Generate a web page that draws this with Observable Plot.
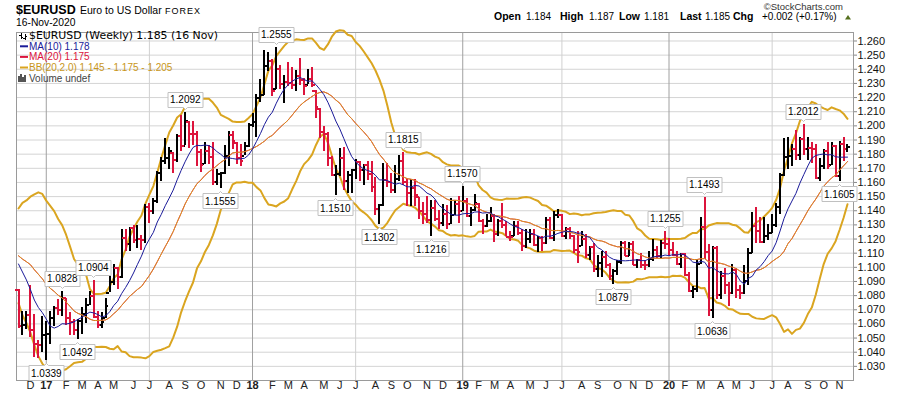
<!DOCTYPE html>
<html><head><meta charset="utf-8">
<script src="https://cdn.jsdelivr.net/npm/d3@7"></script>
<script src="https://cdn.jsdelivr.net/npm/@observablehq/plot@0.6"></script>
<style>
html,body{margin:0;padding:0;background:#fff;}
#chart{width:900px;height:396px;position:relative;overflow:hidden;}
</style></head><body><div id="chart"></div>
<script>
// ---------------- data (weekly bars, Monday dates) ----------------
const firstWeek = "2016-11-14";
// closes of the 20 weeks before the first bar (Jun 27 – Nov 7 2016), for MA / BB warm-up
const warmupCloses = [1.1105,1.1050,1.1040,1.0975,1.1175,1.1085,1.1160,1.1325,1.1195,1.1155,1.1235,1.1155,1.1225,1.1240,1.1200,1.0970,1.0885,1.0985,1.1140,1.0850];

const highs2016  = [1.0840,1.0685,1.0690,1.0875,1.0670,1.0480,1.0655];
const lows2016   = [1.0565,1.0520,1.0560,1.0505,1.0365,1.0352,1.0400];
const closes2016 = [1.0585,1.0590,1.0665,1.0560,1.0455,1.0450,1.0520];

const highs2017  = [1.0620,1.0685,1.0720,1.0775,1.0828, 1.0780,1.0680,1.0630,1.0630, 1.0715,1.0780,1.0830,1.0904, 1.0690,1.0680,1.0780,1.0950, 1.1020,1.1000,1.1265,1.1270,1.1285, 1.1295,1.1295,1.1225,1.1445, 1.1450,1.1490,1.1680,1.1775,1.1910, 1.1845,1.1810,1.1940,1.2070, 1.2092,1.2030,1.2030,1.1960, 1.1835,1.1880,1.1860,1.1880,1.1690, 1.1665,1.1860,1.1960,1.1960, 1.1880,1.1865,1.1880,1.2020];
const lows2017   = [1.0339,1.0455,1.0580,1.0660,1.0650, 1.0590,1.0520,1.0520,1.0492, 1.0525,1.0600,1.0730,1.0650, 1.0570,1.0570,1.0640,1.0820, 1.0870,1.0840,1.0920,1.1110,1.1110, 1.1170,1.1130,1.1120,1.1170, 1.1310,1.1370,1.1450,1.1610,1.1730, 1.1690,1.1660,1.1740,1.1820, 1.1860,1.1840,1.1860,1.1715, 1.1670,1.1730,1.1730,1.1575,1.1575, 1.1555,1.1655,1.1715,1.1830, 1.1730,1.1715,1.1790,1.1850];
const closes2017 = [1.0530,1.0640,1.0710,1.0700,1.0785, 1.0640,1.0615,1.0560,1.0620, 1.0670,1.0735,1.0800,1.0650, 1.0590,1.0615,1.0725,1.0895, 1.0995,1.0930,1.1210,1.1165,1.1280, 1.1195,1.1200,1.1195,1.1425, 1.1400,1.1470,1.1665,1.1750,1.1775, 1.1820,1.1760,1.1925,1.1860, 1.2035,1.1945,1.1940,1.1815, 1.1725,1.1820,1.1780,1.1605,1.1660, 1.1665,1.1790,1.1935,1.1895, 1.1770,1.1750,1.1860,1.2005];

const highs2018  = [1.2090,1.2220,1.2325,1.2535,1.2520, 1.2470,1.2555,1.2430,1.2355, 1.2445,1.2410,1.2390,1.2475, 1.2335,1.2395,1.2415,1.2250,1.2120, 1.1995,1.1950,1.1780,1.1720, 1.1840,1.1850,1.1675,1.1690, 1.1760,1.1745,1.1720,1.1750,1.1745, 1.1635,1.1445,1.1735,1.1735, 1.1660,1.1720,1.1790,1.1815, 1.1625,1.1620,1.1620,1.1495,1.1455, 1.1500,1.1470,1.1470,1.1400, 1.1445,1.1440,1.1485,1.1470,1.1500];
const lows2018   = [1.1990,1.1915,1.2165,1.2215,1.2385, 1.2205,1.2260,1.2260,1.2155, 1.2275,1.2260,1.2240,1.2285, 1.2215,1.2290,1.2270,1.2055,1.1910, 1.1820,1.1715,1.1645,1.1510, 1.1640,1.1540,1.1520,1.1525, 1.1620,1.1610,1.1575,1.1615,1.1530, 1.1365,1.1302,1.1430,1.1565, 1.1525,1.1525,1.1610,1.1575, 1.1430,1.1430,1.1430,1.1335,1.1305, 1.1310,1.1216,1.1325,1.1265, 1.1290,1.1270,1.1300,1.1365,1.1310];
const closes2018 = [1.2030,1.2200,1.2220,1.2425,1.2460, 1.2250,1.2405,1.2295,1.2310, 1.2305,1.2290,1.2355,1.2325, 1.2280,1.2330,1.2290,1.2130,1.1960, 1.1940,1.1770,1.1655,1.1660, 1.1770,1.1610,1.1655,1.1685, 1.1745,1.1685,1.1720,1.1660,1.1565, 1.1410,1.1440,1.1620,1.1600, 1.1550,1.1625,1.1755,1.1605, 1.1525,1.1560,1.1510,1.1400,1.1380, 1.1335,1.1420,1.1340,1.1315, 1.1380,1.1305,1.1370,1.1445,1.1400];

const highs2019  = [1.1570,1.1485,1.1425,1.1515, 1.1450,1.1340,1.1370,1.1420, 1.1375,1.1340,1.1450,1.1325, 1.1255,1.1325,1.1325,1.1265,1.1265, 1.1265,1.1265,1.1215,1.1215, 1.1350,1.1350,1.1395,1.1410, 1.1375,1.1285,1.1285,1.1225,1.1250, 1.1250,1.1230,1.1150,1.1165, 1.1085,1.1110,1.1110,1.1025,1.0985, 1.1050,1.1180,1.1180,1.1175, 1.1180,1.1055,1.1095,1.1045, 1.1115,1.1200,1.1150,1.1190,1.1255];
const lows2019   = [1.1395,1.1350,1.1290,1.1395, 1.1325,1.1235,1.1280,1.1320, 1.1175,1.1220,1.1275,1.1215, 1.1185,1.1220,1.1225,1.1110,1.1135, 1.1170,1.1150,1.1105,1.1115, 1.1160,1.1200,1.1180,1.1345, 1.1210,1.1195,1.1200,1.1100,1.1030, 1.1150,1.1065,1.1050,1.0960, 1.0925,1.0925,1.0990,1.0905,1.0879, 1.0940,1.1020,1.1075,1.1075, 1.1015,1.0990,1.0990,1.0980, 1.1000,1.1040,1.1065,1.1065,1.1125];
const closes2019 = [1.1470,1.1365,1.1405,1.1455, 1.1325,1.1295,1.1330,1.1365, 1.1235,1.1325,1.1300,1.1215, 1.1213,1.1295,1.1245,1.1150,1.1200, 1.1235,1.1155,1.1205,1.1170, 1.1335,1.1210,1.1370,1.1372, 1.1225,1.1270,1.1220,1.1125,1.1105, 1.1200,1.1090,1.1145,1.0990, 1.1030,1.1075,1.1015,1.0940,1.0975, 1.1040,1.1170,1.1080,1.1165, 1.1020,1.1050,1.1020,1.1015, 1.1060,1.1120,1.1080,1.1175,1.1165];

const highs2020  = [1.1205,1.1175,1.1110,1.1095, 1.1095,1.0960,1.0865,1.1055, 1.1355,1.1493,1.1160,1.1145,1.1150, 1.0970,1.0990,1.0890,1.1020, 1.0990,1.0875,1.1010,1.1135, 1.1385,1.1420,1.1350,1.1350,1.1300, 1.1375,1.1450,1.1660,1.1910, 1.1915,1.1865,1.1965,1.1920,1.2012, 1.1915,1.1885,1.1870,1.1770, 1.1830,1.1880,1.1880,1.1860, 1.1890,1.1920,1.1870];
const lows2020   = [1.1085,1.1090,1.1015,1.0990, 1.0945,1.0825,1.0780,1.0820, 1.1020,1.1055,1.0650,1.0636,1.0770, 1.0770,1.0810,1.0725,1.0810, 1.0780,1.0775,1.0810,1.0870, 1.1095,1.1170,1.1170,1.1170,1.1190, 1.1240,1.1285,1.1375,1.1640, 1.1695,1.1710,1.1755,1.1755,1.1790, 1.1755,1.1735,1.1625,1.1610, 1.1690,1.1690,1.1720,1.1640, 1.1605,1.1745,1.1810];
const closes2020 = [1.1120,1.1090,1.1025,1.1095, 1.0945,1.0830,1.0845,1.1025, 1.1285,1.1105,1.0695,1.1140,1.0805, 1.0940,1.0875,1.0820,1.0980, 1.0840,1.0820,1.0900,1.1100, 1.1290,1.1255,1.1180,1.1220,1.1245, 1.1300,1.1425,1.1655,1.1780, 1.1785,1.1840,1.1795,1.1905,1.1835, 1.1845,1.1840,1.1630,1.1715, 1.1825,1.1715,1.1860,1.1645, 1.1875,1.1835,1.1850];

// swing-point callouts (week, side of bar)
const calloutDates = ["2017-01-02","2017-01-30","2017-02-27","2017-03-27","2017-09-04","2017-11-06","2018-02-12","2018-05-28","2018-08-13","2018-09-24","2018-11-12","2019-01-07","2019-09-30","2019-12-30","2020-03-09","2020-03-23","2020-08-31","2020-11-02"];
const calloutSides = ["L","H","L","H","H","L","H","L","L","H","L","H","L","H","H","L","H","L"];

// axis labels
const monthLetters = ["J","F","M","A","M","J","J","A","S","O","N","D"];
const yTicks = [1.03,1.04,1.05,1.06,1.07,1.08,1.09,1.10,1.11,1.12,1.13,1.14,1.15,1.16,1.17,1.18,1.19,1.20,1.21,1.22,1.23,1.24,1.25,1.26];

// ---------------- build table ----------------
const highs  = [].concat(highs2016, highs2017, highs2018, highs2019, highs2020);
const lows   = [].concat(lows2016, lows2017, lows2018, lows2019, lows2020);
const closes = [].concat(closes2016, closes2017, closes2018, closes2019, closes2020);
const allCloses = warmupCloses.concat(closes);
const W = warmupCloses.length;
const t0 = Date.parse(firstWeek + "T00:00:00Z");
const bars = closes.map((c, i) => {
  const prev = allCloses[W + i - 1];
  const j = W + i;
  const w20 = allCloses.slice(j - 19, j + 1), w10 = allCloses.slice(j - 9, j + 1);
  const m20 = d3.mean(w20), m10 = d3.mean(w10);
  const sd = Math.sqrt(d3.mean(w20, v => (v - m20) ** 2));
  return {
    date: new Date(t0 + i * 7 * 864e5),
    o: Math.min(highs[i], Math.max(lows[i], prev)), h: highs[i], l: lows[i], c,
    up: c >= prev, ma10: m10, ma20: m20, bbU: m20 + 2 * sd, bbL: m20 - 2 * sd
  };
});
const byKey = new Map(bars.map(b => [b.date.toISOString().slice(0, 10), b]));
const callouts = calloutDates.map((d, k) => {
  const b = byKey.get(d), hi = calloutSides[k] === "H";
  return {date: b.date, v: hi ? b.h : b.l, side: calloutSides[k], label: d3.format(".4f")(hi ? b.h : b.l)};
});
const monthStarts = [];
for (let i = 1; i < bars.length; i++) {
  const m = bars[i].date.getUTCMonth();
  if (m !== bars[i - 1].date.getUTCMonth()) {
    monthStarts.push({date: bars[i].date, month: m,
      label: m === 0 ? String(bars[i].date.getUTCFullYear()).slice(2) : monthLetters[m]});
  }
}

// ---------------- plot ----------------
const RED = "#dc143c", BLK = "#000", GOLD = "#daa520", NAVY = "#1a1a99";
const SANS = "'Liberation Sans', Arial, sans-serif";
const day = 864e5;
const x0 = new Date(t0 - 3.53 * day), x1 = new Date(Date.parse("2020-11-16T00:00:00Z") + 10.59 * day);
const upBars = bars.filter(b => b.up), dnBars = bars.filter(b => !b.up);
const ohlc = (data, col) => [
  Plot.ruleX(data, {x: "date", y1: "l", y2: "h", stroke: col, strokeWidth: 2, shapeRendering: "crispEdges"}),
  Plot.ruleY(data, {x1: "date", x2: "date", y: "o", stroke: col, strokeWidth: 2, insetLeft: -3, shapeRendering: "crispEdges"}),
  Plot.ruleY(data, {x1: "date", x2: "date", y: "c", stroke: col, strokeWidth: 2, insetRight: -3, shapeRendering: "crispEdges"})
];
const tipOpts = {x: "date", y: "v", title: "label", fill: "white", stroke: "#c0c0c0", pathFilter: "none",
  pointerSize: 4, textPadding: 2, fontSize: 10, fontFamily: SANS};
let tipMarks = [];
if (Plot.tip) {
  tipMarks = [
    Plot.tip(callouts.filter(d => d.side === "H"), {...tipOpts, anchor: "bottom", dy: -3}),
    Plot.tip(callouts.filter(d => d.side === "L"), {...tipOpts, anchor: "top", dy: 3})
  ];
} else {
  tipMarks = [
    Plot.text(callouts.filter(d => d.side === "H"), {x: "date", y: "v", text: "label", dy: -10, fontSize: 10}),
    Plot.text(callouts.filter(d => d.side === "L"), {x: "date", y: "v", text: "label", dy: 10, fontSize: 10})
  ];
}

const plot = Plot.plot({
  width: 900, height: 396,
  marginTop: 32, marginBottom: 16, marginLeft: 16, marginRight: 47,
  x: {type: "utc", domain: [x0, x1], axis: null},
  y: {domain: [1.02, 1.266], axis: null},
  style: {fontFamily: SANS, fontSize: "11px", background: "#fff", overflow: "visible"},
  marks: [
    Plot.ruleY(yTicks, {stroke: "#d4d4d4"}),
    Plot.ruleX(monthStarts.filter(d => d.month === 6), {x: "date", stroke: "#d0d0d0"}),
    Plot.ruleX(monthStarts.filter(d => d.month === 0), {x: "date", stroke: "#a0a0a0"}),
    Plot.frame({stroke: "#9a9a9a"}),
    Plot.axisY(yTicks, {anchor: "right", tickSize: 3, tickPadding: 1, tickFormat: d3.format(".3f"), fontSize: 11, stroke: "#888", fill: "#111"}),
    Plot.text(monthStarts.filter(d => d.month !== 0), {x: "date", text: "label", frameAnchor: "bottom", dy: 8, fontSize: 11, fill: "#222"}),
    Plot.text(monthStarts.filter(d => d.month === 0), {x: "date", text: "label", frameAnchor: "bottom", dy: 8, fontSize: 11, fontWeight: "bold", fill: "#222"}),
    Plot.line(bars, {x: "date", y: "bbU", stroke: GOLD, strokeWidth: 2}),
    Plot.line(bars, {x: "date", y: "bbL", stroke: GOLD, strokeWidth: 2}),
    ...ohlc(upBars, BLK),
    ...ohlc(dnBars, RED),
    Plot.line(bars, {x: "date", y: "ma20", stroke: RED, strokeWidth: 1}),
    Plot.line(bars, {x: "date", y: "ma20", stroke: GOLD, strokeWidth: 1, strokeDasharray: "1,1"}),
    Plot.line(bars, {x: "date", y: "ma10", stroke: NAVY, strokeWidth: 1}),
    ...tipMarks
  ]
});
document.getElementById("chart").appendChild(plot);

// ---------------- header & legend text ----------------
const svg = d3.select(plot);
// give callout texts an explicit size
svg.selectAll("g[aria-label='tip'] text, g[aria-label='tip'] tspan").attr("font-size", 10);
function txt(x, y, s, o = {}) {
  const t = svg.append("text").attr("x", x).attr("y", y).text(s)
    .attr("font-family", o.family || SANS).attr("font-size", o.size || 11)
    .attr("fill", o.fill || "#000").attr("font-weight", o.weight || "normal")
    .attr("text-anchor", o.anchor || "start").style("white-space", "pre");
  if (o.ls) t.attr("letter-spacing", o.ls);
  return t;
}
txt(16, 13.5, "$EURUSD", {weight: "bold", size: 12.5});
txt(80, 13.5, "Euro to US Dollar", {size: 10.5});
txt(165, 13.5, "FOREX", {size: 9, ls: 1});
txt(16, 25.5, "16-Nov-2020", {size: 10.3});
txt(843, 10, "\u00A9StockCharts.com", {size: 9.5, fill: "#333", anchor: "end"});
const hdr = [["Open", 494, true], ["1.184", 526], ["High", 560, true], ["1.187", 589], ["Low", 619, true], ["1.181", 644],
  ["Last", 680, true], ["1.185", 705], ["Chg", 733, true], ["+0.002 (+0.17%)", 762]];
for (const [s, x, b] of hdr) txt(x, 20, s, {weight: b ? "bold" : "normal", size: b ? 10.5 : 10});
svg.append("path").attr("d", "M845,19.5L851,19.5L848,15Z").attr("fill", "#55701e");

// legend
const LEG = [
  {s: "$EURUSD (Weekly) 1.185 (16 Nov)", fill: "#000", y: 39.3, family: "'DejaVu Sans', Verdana, sans-serif", size: 10.9},
  {s: "MA(10) 1.178", fill: NAVY, y: 49.8, dash: NAVY},
  {s: "MA(20) 1.175", fill: RED, y: 60.4, dash: RED},
  {s: "BB(20,2.0) 1.145 - 1.175 - 1.205", fill: "#c8961a", y: 71, dash: GOLD},
  {s: "Volume undef", fill: "#444", y: 81.5}
];
for (const l of LEG) {
  txt(29, l.y, l.s, {fill: l.fill, size: l.size || 10, family: l.family});
  if (l.dash) svg.append("line").attr("x1", 20).attr("x2", 28).attr("y1", l.y - 3.5).attr("y2", l.y - 3.5)
    .attr("stroke", l.dash).attr("stroke-width", 2);
}
// ohlc icon
svg.append("path").attr("d", "M21,33V39M19,35H21M21,37H23M25,34V40M23,38H25M25,36H27")
  .attr("stroke", "#000").attr("stroke-width", 1).attr("fill", "none").attr("shape-rendering", "crispEdges");
// volume icon
svg.append("path").attr("d", "M19,81.5V76M21,81.5V74M23,81.5V77M25,81.5V75")
  .attr("stroke", "#555").attr("stroke-width", 1.6).attr("fill", "none").attr("shape-rendering", "crispEdges");
</script></body></html>
